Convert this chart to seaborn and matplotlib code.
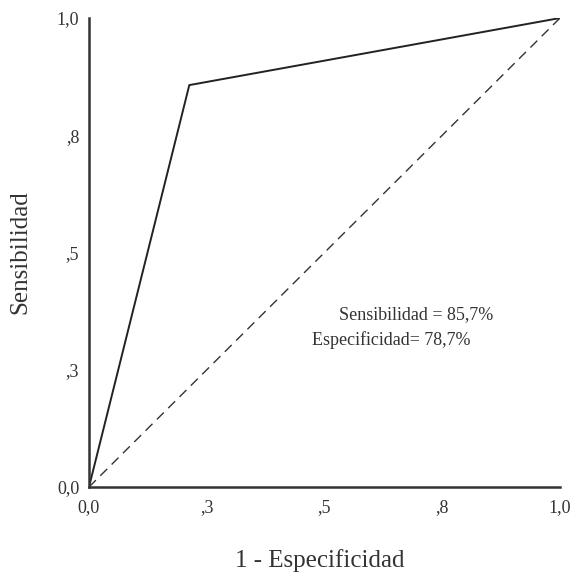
import matplotlib
matplotlib.use("Agg")
import matplotlib.pyplot as plt
import seaborn as sns
import pandas as pd

# ROC data (1 - specificity, sensitivity)
fpr = [0.0, 0.213, 1.0]
tpr = [0.0, 0.857, 1.0]
ref = [0.0, 1.0]
ticks = [0.0, 0.25, 0.5, 0.75, 1.0]
tick_labels = ["0,0", ",3", ",5", ",8", "1,0"]

sns.set_style("white")
plt.rcParams['font.family'] = ['Liberation Serif', 'DejaVu Serif']

fig = plt.figure(figsize=(5.73, 5.78), dpi=100)
ax = fig.add_axes([0.1553, 0.1574, 0.822, 0.8114])

roc = pd.DataFrame({"x": fpr, "y": tpr})
sns.lineplot(data=roc, x="x", y="y", ax=ax, color="#222222", linewidth=1.4, sort=False)
ax.plot(ref, ref, color="#333333", linewidth=1.0, linestyle=(0, (7, 4.5)))

ax.set_xlim(0, 1)
ax.set_ylim(0, 1)
ax.set_xticks(ticks)
ax.set_xticklabels(tick_labels)
ax.set_yticks(ticks)
ax.set_yticklabels(tick_labels)
ax.tick_params(length=0, labelsize=13, colors="#333333")
ax.tick_params(axis="x", pad=9)
ax.tick_params(axis="y", pad=7)

sns.despine(ax=ax)
for s in ["left", "bottom"]:
    ax.spines[s].set_color("#333333")
    ax.spines[s].set_linewidth(1.8)

ax.set_xlabel("1 - Especificidad", fontsize=18, color="#333333")
ax.set_ylabel("Sensibilidad", fontsize=18, color="#333333")
ax.xaxis.set_label_coords(0.49, -0.132)
ax.yaxis.set_label_coords(-0.122, 0.5)

ax.text(0.694, 0.367, "Sensibilidad = 85,7%", fontsize=13, color="#333333",
        ha="center", va="center", transform=ax.transAxes)
ax.text(0.641, 0.313, "Especificidad= 78,7%", fontsize=13, color="#333333",
        ha="center", va="center", transform=ax.transAxes)

fig.savefig("out.png", dpi=100)
